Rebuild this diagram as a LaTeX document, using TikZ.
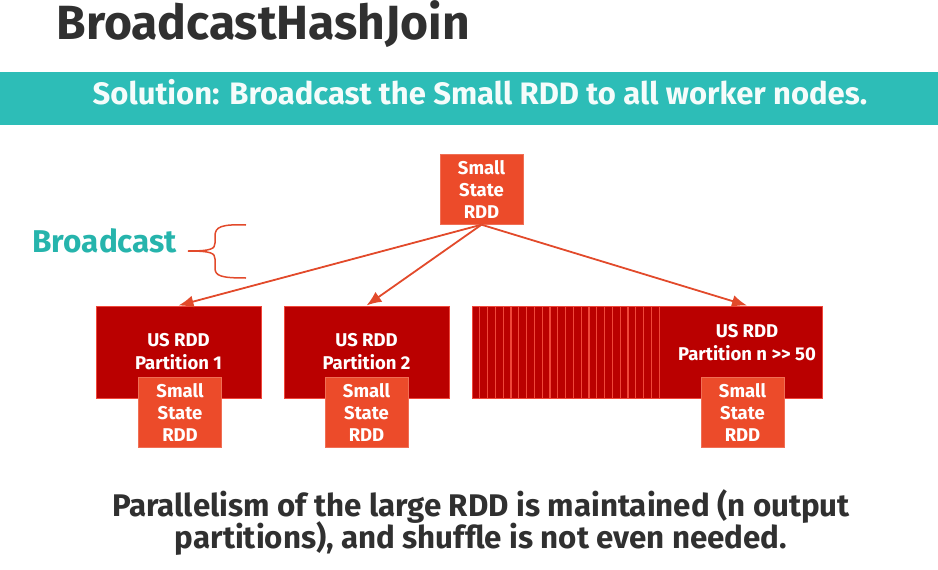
\documentclass[tikz,border=0pt]{standalone}
\usepackage{fontspec}
\setmainfont{Fira Sans}
\usepackage{xcolor}
\usetikzlibrary{arrows.meta}
\definecolor{barteal}{HTML}{2DBDB7}
\definecolor{textteal}{HTML}{26B4AC}
\definecolor{smallred}{HTML}{EC4B2A}
\definecolor{partred}{HTML}{BA0000}
\definecolor{stripered}{HTML}{F0473A}
\definecolor{linered}{HTML}{E24A2B}
\definecolor{darktext}{HTML}{303030}

\begin{document}
\begin{tikzpicture}[x=1pt,y=-1pt,>={Latex[length=15pt,width=12pt]},
                    small node/.style={rectangle,fill=smallred,draw=smallred!80!white,text=white,
                      minimum width=83pt,minimum height=70pt,align=center,
                      font=\fontsize{18.5}{22}\selectfont\bfseries},
                    part node/.style={rectangle,fill=partred,draw=stripered,line width=1pt,text=white,
                      minimum width=165pt,minimum height=92pt,align=center,
                      font=\fontsize{18.5}{23}\selectfont\bfseries},
                    bcast/.style={->,draw=linered,line width=1.8pt}]
\useasboundingbox (0,0) rectangle (938,570);
\fill[barteal] (0,72) rectangle (938,125);
\node[anchor=base west,text=darktext,font=\fontsize{48}{52}\selectfont\bfseries] (title) at (53,39) {BroadcastHashJoin};
\node[anchor=base,text=white!95!barteal,font=\fontsize{31}{34}\selectfont\bfseries] (solution) at (480,104) {Solution: Broadcast the Small RDD to all worker nodes.};

\node[small node] (src) at (481.5,189.5) {Small\\State\\RDD};

\node[anchor=base west,text=textteal,font=\fontsize{31.5}{34}\selectfont\bfseries] (bc) at (29,252) {Broadcast};
\draw[draw=linered,line width=1.5pt] (246,225) .. controls (221,224) and (215,227) .. (215,236) -- (215,243)
  .. controls (215,249) and (211,251) .. (188,251) .. controls (211,251) and (215,253) .. (215,259) -- (215,268)
  .. controls (215,276) and (221,278) .. (246,278);

\node[part node] (p1) at (178.5,352) {US RDD\\Partition 1};
\node[part node] (p2) at (366.5,352) {US RDD\\Partition 2};
\node[part node,minimum width=350pt] (p3) at (647,352) {};
\foreach \k in {1,...,24}
  \draw[draw=stripered,line width=1.3pt] (472+7.8*\k,306.5) -- (472+7.8*\k,397.5);
\node[text=white,align=center,font=\fontsize{18.5}{23}\selectfont\bfseries] (t3) at (747,343) {US RDD\\Partition n >{}> 50};

\node[small node] (s1) at (180,412.5) {Small\\State\\RDD};
\node[small node] (s2) at (366.5,412.5) {Small\\State\\RDD};
\node[small node] (s3) at (742.5,412.5) {Small\\State\\RDD};

\path
(src.south) edge[bcast] (p1.north)
            edge[bcast] (p2.north)
            edge[bcast] (t3 |- p3.north);

\node[anchor=base,text=darktext,font=\fontsize{31.3}{34}\selectfont\bfseries] (note1) at (481,516) {Parallelism of the large RDD is maintained (n output};
\node[anchor=base,text=darktext,font=\fontsize{31.3}{34}\selectfont\bfseries] (note2) at (481,548) {partitions), and shuffle is not even needed.};
\end{tikzpicture}
\end{document}
